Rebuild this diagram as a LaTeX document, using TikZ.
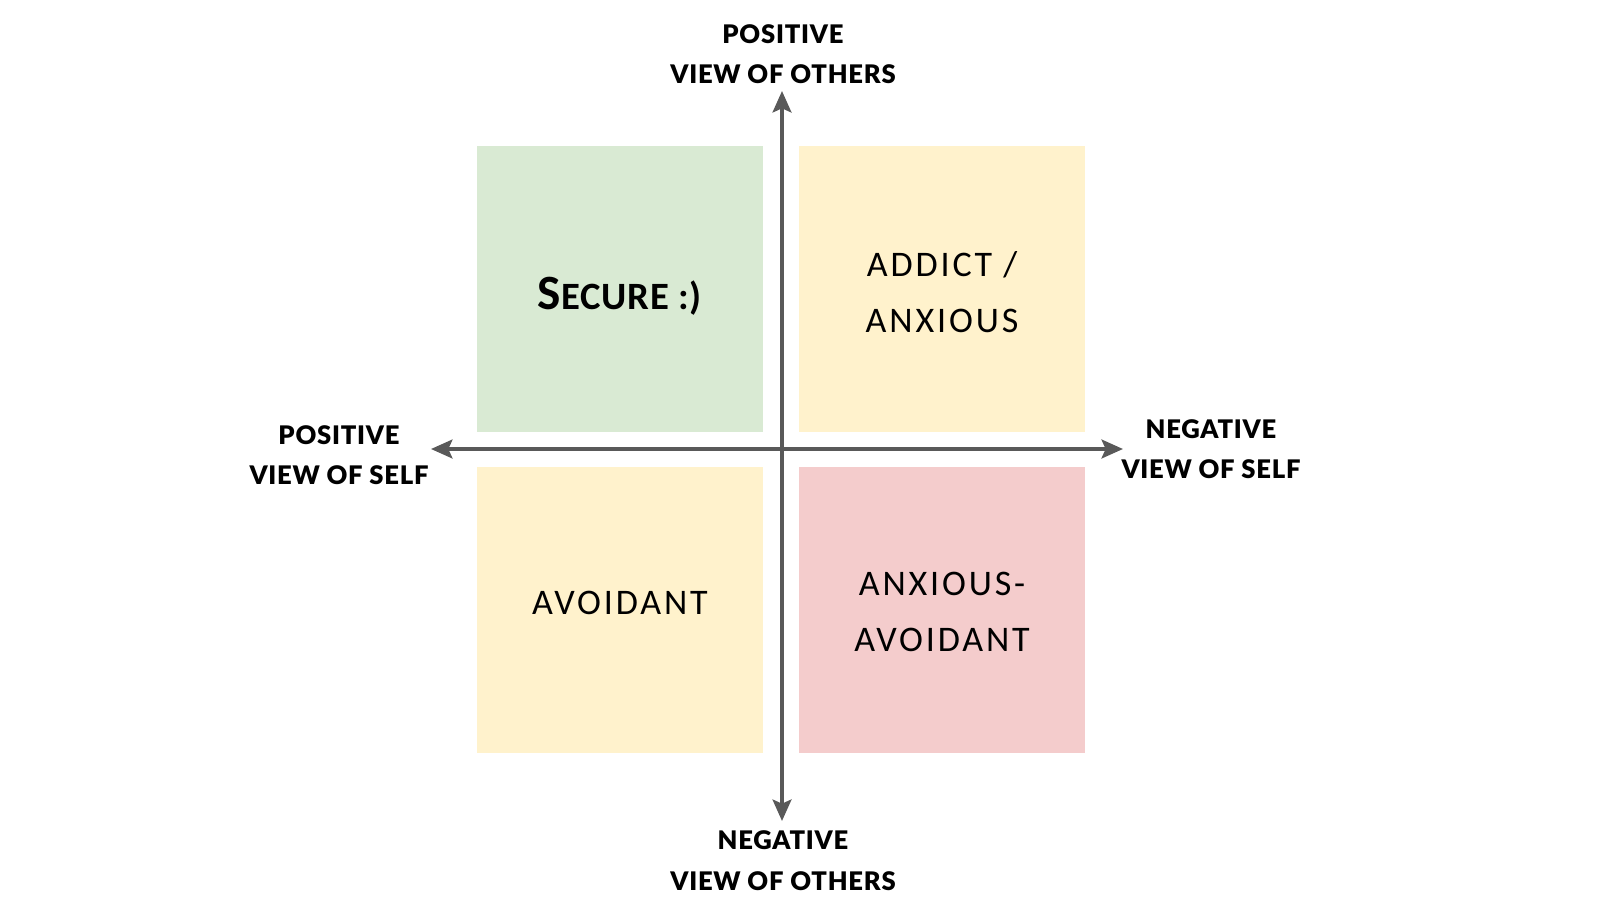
\documentclass[tikz,border=0pt]{standalone}
\usepackage{fontspec}
\usetikzlibrary{arrows.meta}
\newfontfamily\axisfont{Lato}[UprightFont=* Black,LetterSpace=3]
\newfontfamily\quadfont{Carlito}[LetterSpace=8]
\newfontfamily\quadboldfont{Carlito Bold}[LetterSpace=2]
\definecolor{qgreen}{HTML}{D9EAD3}
\definecolor{qyellow}{HTML}{FFF2CC}
\definecolor{qpink}{HTML}{F4CCCC}
\definecolor{axisgray}{HTML}{595959}
\begin{document}
\begin{tikzpicture}[x=0.75pt,y=-0.75pt,
  quad/.style={minimum width=214.5pt,minimum height=214.5pt,inner sep=0pt,draw=none},
  qtext/.style={align=center,inner sep=0pt,font=\quadfont\fontsize{27}{41.5}\selectfont},
  axislabel/.style={align=center,inner sep=0pt,font=\axisfont\fontsize{19.2}{30.4}\selectfont},
  axisline/.style={draw=axisgray,line width=3pt,{Stealth[length=16pt,width=14pt,inset=3pt]}-{Stealth[length=16pt,width=14pt,inset=3pt]}}]
\useasboundingbox (0,0) rectangle (1600,907);
% quadrants
\node[quad,fill=qgreen]  (tl) at (620,288.5) {};
\node[quad,fill=qyellow] (tr) at (941.5,288.5) {};
\node[quad,fill=qyellow] (bl) at (620,610) {};
\node[quad,fill=qpink]   (br) at (941.5,610) {};
% quadrant texts
\node[inner sep=0pt,font=\quadboldfont] (t-secure) at (620,296) {{\fontsize{37}{37}\selectfont S}{\fontsize{29}{29}\selectfont ECURE :)}};
\node[qtext] (t-addict) at (942,292) {ADDICT /\\ANXIOUS};
\node[qtext] (t-avoid) at (620,602.5) {AVOIDANT};
\node[qtext] (t-anxav) at (942,612) {ANXIOUS-\\AVOIDANT};
% axes
\coordinate (o) at (782,449);
\coordinate (xl) at (431,449);
\coordinate (xr) at (1123,449);
\coordinate (yt) at (782,91);
\coordinate (yb) at (782,821);
\draw[axisline] (xl) -- (xr);
\draw[axisline] (yt) -- (yb);
% axis labels
\node[axislabel] (l-top) at (783,54.3) {POSITIVE\\VIEW OF OTHERS};
\node[axislabel] (l-bot) at (783,860.7) {NEGATIVE\\VIEW OF OTHERS};
\node[axislabel] (l-left) at (339,455) {POSITIVE\\VIEW OF SELF};
\node[axislabel] (l-right) at (1211,449) {NEGATIVE\\VIEW OF SELF};
\end{tikzpicture}
\end{document}
